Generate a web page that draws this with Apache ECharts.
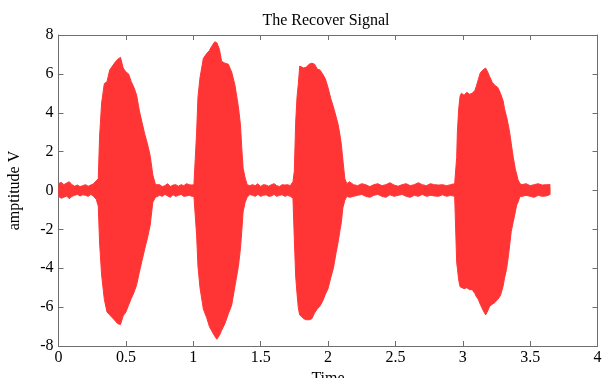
<!DOCTYPE html>
<html>
<head>
<meta charset="utf-8">
<script src="https://cdn.jsdelivr.net/npm/echarts@6/dist/echarts.min.js"></script>
<style>
  html, body { margin: 0; padding: 0; background: #ffffff; }
  #chart { width: 609px; height: 378px; }
</style>
</head>
<body>
<div id="chart"></div>
<script>
// Sample times (s) of the recovered signal envelope
const time = [
  0, 0.02, 0.04, 0.06, 0.08, 0.10, 0.12, 0.14, 0.16, 0.18, 0.20, 0.22, 0.24, 0.26, 0.28,
  0.295, 0.305, 0.32, 0.34, 0.36, 0.38, 0.40, 0.42, 0.44, 0.46, 0.48, 0.50, 0.52, 0.54, 0.56, 0.58, 0.60, 0.62, 0.64, 0.66, 0.68, 0.70, 0.72, 0.73,
  0.75, 0.77, 0.79, 0.81, 0.83, 0.85, 0.87, 0.89, 0.91, 0.93, 0.95, 0.97, 0.99, 1.005,
  1.015, 1.025, 1.035, 1.05, 1.075, 1.10, 1.12, 1.135, 1.16, 1.175, 1.185, 1.195, 1.21, 1.235, 1.26, 1.285, 1.31, 1.335, 1.35, 1.36, 1.37, 1.385, 1.40, 1.42,
  1.44, 1.46, 1.48, 1.50, 1.52, 1.54, 1.56, 1.58, 1.60, 1.62, 1.64, 1.66, 1.68, 1.70, 1.72, 1.74,
  1.75, 1.76, 1.77, 1.78, 1.79, 1.80, 1.82, 1.84, 1.86, 1.88, 1.90, 1.92, 1.94, 1.96, 1.98, 2.00, 2.02, 2.04, 2.06, 2.075, 2.09, 2.10, 2.11, 2.125, 2.14,
  2.16, 2.19, 2.22, 2.25, 2.28, 2.31, 2.34, 2.37, 2.40, 2.43, 2.46, 2.49, 2.52, 2.55, 2.58, 2.61, 2.64, 2.67, 2.70, 2.73, 2.76, 2.79, 2.82, 2.85, 2.88, 2.91, 2.94,
  2.955, 2.96, 2.97, 2.98, 2.99, 3.01, 3.03, 3.05, 3.07, 3.09, 3.10, 3.115, 3.13, 3.15, 3.17, 3.185, 3.20, 3.22, 3.24, 3.26, 3.28, 3.30, 3.31, 3.325, 3.34, 3.35, 3.36, 3.375, 3.39, 3.40, 3.41, 3.425,
  3.44, 3.47, 3.50, 3.53, 3.56, 3.59, 3.62, 3.65
];

// Positive peak amplitude (V) at each sample time
const upper = [
  0.35, 0.42, 0.3, 0.38, 0.45, 0.3, 0.22, 0.28, 0.2, 0.25, 0.3, 0.22, 0.28, 0.35, 0.5,
  0.6, 2.8, 4.5, 5.5, 5.6, 6.2, 6.4, 6.6, 6.75, 6.85, 6.3, 6.1, 6.0, 5.6, 5.3, 4.9, 4.1, 3.5, 2.9, 2.4, 1.8, 0.8, 0.3, 0.25,
  0.3, 0.2, 0.25, 0.35, 0.2, 0.28, 0.3, 0.22, 0.3, 0.25, 0.35, 0.3, 0.28, 0.3,
  0.4, 3.0, 4.8, 5.8, 6.8, 7.05, 7.2, 7.4, 7.65, 7.6, 7.55, 7.25, 6.65, 6.55, 6.5, 6.1, 5.4, 4.3, 3.4, 2.2, 1.15, 0.65, 0.3, 0.25,
  0.3, 0.25, 0.35, 0.2, 0.3, 0.28, 0.22, 0.3, 0.35, 0.25, 0.2, 0.3, 0.28, 0.3, 0.25, 0.45,
  1.0, 3.5, 4.8, 5.5, 6.4, 6.4, 6.3, 6.35, 6.5, 6.55, 6.5, 6.25, 6.2, 6.0, 5.75, 5.3, 4.75, 4.3, 3.8, 3.4, 2.8, 2.3, 1.6, 0.6, 0.35,
  0.45, 0.3, 0.25, 0.35, 0.3, 0.2, 0.3, 0.35, 0.25, 0.3, 0.4, 0.28, 0.22, 0.3, 0.35, 0.25, 0.3, 0.4, 0.3, 0.25, 0.35, 0.3, 0.28, 0.3, 0.25, 0.3, 0.35,
  1.7, 3.0, 4.2, 4.85, 5.0, 4.9, 5.05, 4.95, 5.0, 5.15, 5.35, 5.7, 6.05, 6.2, 6.3, 6.1, 5.85, 5.55, 5.4, 5.3, 5.0, 4.6, 4.2, 3.8, 3.3, 2.9, 2.4, 1.7, 1.1, 0.85, 0.55, 0.35,
  0.3, 0.35, 0.25, 0.3, 0.35, 0.28, 0.3, 0.3
];

// Negative peak amplitude (V) at each sample time
const lower = [
  -0.3, -0.4, -0.35, -0.28, -0.42, -0.3, -0.25, -0.2, -0.28, -0.22, -0.25, -0.3, -0.2, -0.3, -0.45,
  -0.8, -2.7, -4.35, -5.6, -6.25, -6.4, -6.55, -6.7, -6.85, -6.9, -6.45, -6.25, -5.9, -5.55, -5.25, -4.85, -4.2, -3.6, -3.0, -2.45, -1.8, -0.6, -0.35, -0.25,
  -0.25, -0.3, -0.2, -0.28, -0.35, -0.22, -0.3, -0.25, -0.2, -0.3, -0.28, -0.25, -0.3, -0.3,
  -0.35, -2.3, -3.9, -5.0, -6.1, -6.55, -7.0, -7.2, -7.5, -7.65, -7.55, -7.45, -7.2, -6.85, -6.35, -5.9, -4.9, -3.9, -3.0, -2.1, -1.1, -0.6, -0.35, -0.2,
  -0.25, -0.3, -0.2, -0.3, -0.25, -0.22, -0.3, -0.28, -0.2, -0.3, -0.25, -0.22, -0.3, -0.25, -0.3, -0.4,
  -2.5, -4.4, -5.3, -6.05, -6.4, -6.5, -6.6, -6.65, -6.65, -6.6, -6.3, -6.1, -5.95, -5.7, -5.35, -5.05, -4.5, -4.0, -3.2, -2.65, -2.0, -1.6, -0.9, -0.5, -0.3,
  -0.35, -0.3, -0.25, -0.2, -0.3, -0.35, -0.25, -0.2, -0.3, -0.35, -0.22, -0.3, -0.25, -0.2, -0.3, -0.35, -0.25, -0.3, -0.2, -0.3, -0.25, -0.28, -0.3, -0.22, -0.3, -0.25, -0.3,
  -3.7, -4.0, -4.6, -4.95, -5.0, -5.05, -5.0, -5.1, -5.1, -5.3, -5.45, -5.6, -5.85, -6.15, -6.4, -6.2, -5.95, -5.85, -5.75, -5.6, -5.4, -4.9, -4.5, -4.05, -3.3, -2.7, -2.1, -1.6, -1.1, -0.75, -0.6, -0.3,
  -0.3, -0.25, -0.3, -0.35, -0.25, -0.3, -0.28, -0.2
];

const xTicks = ['0', '0.5', '1', '1.5', '2', '2.5', '3', '3.5', '4'];
const yTicks = ['-8', '-6', '-4', '-2', '0', '2', '4', '6', '8'];

const SERIF = '"Liberation Serif", "Times New Roman", serif';
const FRAME = '#6e6e6e';
const SIGNAL = '#ff3535';

const chart = echarts.init(document.getElementById('chart'), null, { renderer: 'canvas' });

const frameAxis = (extra) => Object.assign({
  axisLine: { show: true, onZero: false, lineStyle: { color: FRAME, width: 1 } },
  axisTick: { show: true, inside: true, length: 5, lineStyle: { color: FRAME } },
  splitLine: { show: false }
}, extra);

// Each envelope is filled towards (slightly past) the zero line so the two halves overlap
const envelope = (vals, origin) => ({
  type: 'line',
  showSymbol: false,
  silent: true,
  data: time.map((t, i) => [t, vals[i]]),
  lineStyle: { color: SIGNAL, width: 1 },
  areaStyle: { color: SIGNAL, opacity: 1, origin: origin },
  z: 1
});

chart.setOption({
  animation: false,
  backgroundColor: '#ffffff',
  title: {
    text: 'The Recover Signal',
    left: 321,
    textAlign: 'center',
    top: 8,
    textStyle: { fontFamily: SERIF, fontSize: 16, fontWeight: 'normal', color: '#000' }
  },
  grid: {
    left: 58.5, top: 35, width: 539, height: 311,
    containLabel: false, outerBoundsMode: 'none'
  },
  xAxis: [
    frameAxis({
      type: 'value', min: 0, max: 4, interval: 0.5,
      name: 'Time', nameLocation: 'middle', nameGap: 18,
      nameTextStyle: { fontFamily: SERIF, fontSize: 16, color: '#000' },
      axisLabel: {
        fontFamily: SERIF, fontSize: 16, color: '#000', margin: 4,
        formatter: (v) => xTicks[Math.round(v / 0.5)]
      }
    }),
    frameAxis({ type: 'value', position: 'top', min: 0, max: 4, interval: 0.5, axisLabel: { show: false } })
  ],
  yAxis: [
    frameAxis({
      type: 'value', min: -8, max: 8, interval: 2,
      name: 'amptitude V', nameLocation: 'middle', nameGap: 36, nameRotate: 90,
      nameTextStyle: { fontFamily: SERIF, fontSize: 16, color: '#000' },
      axisLabel: {
        fontFamily: SERIF, fontSize: 16, color: '#000', margin: 5,
        formatter: (v) => yTicks[Math.round((v + 8) / 2)]
      }
    }),
    frameAxis({ type: 'value', position: 'right', min: -8, max: 8, interval: 2, axisLabel: { show: false } })
  ],
  series: [envelope(upper, -0.15), envelope(lower, 0.15)]
});
</script>
</body>
</html>
